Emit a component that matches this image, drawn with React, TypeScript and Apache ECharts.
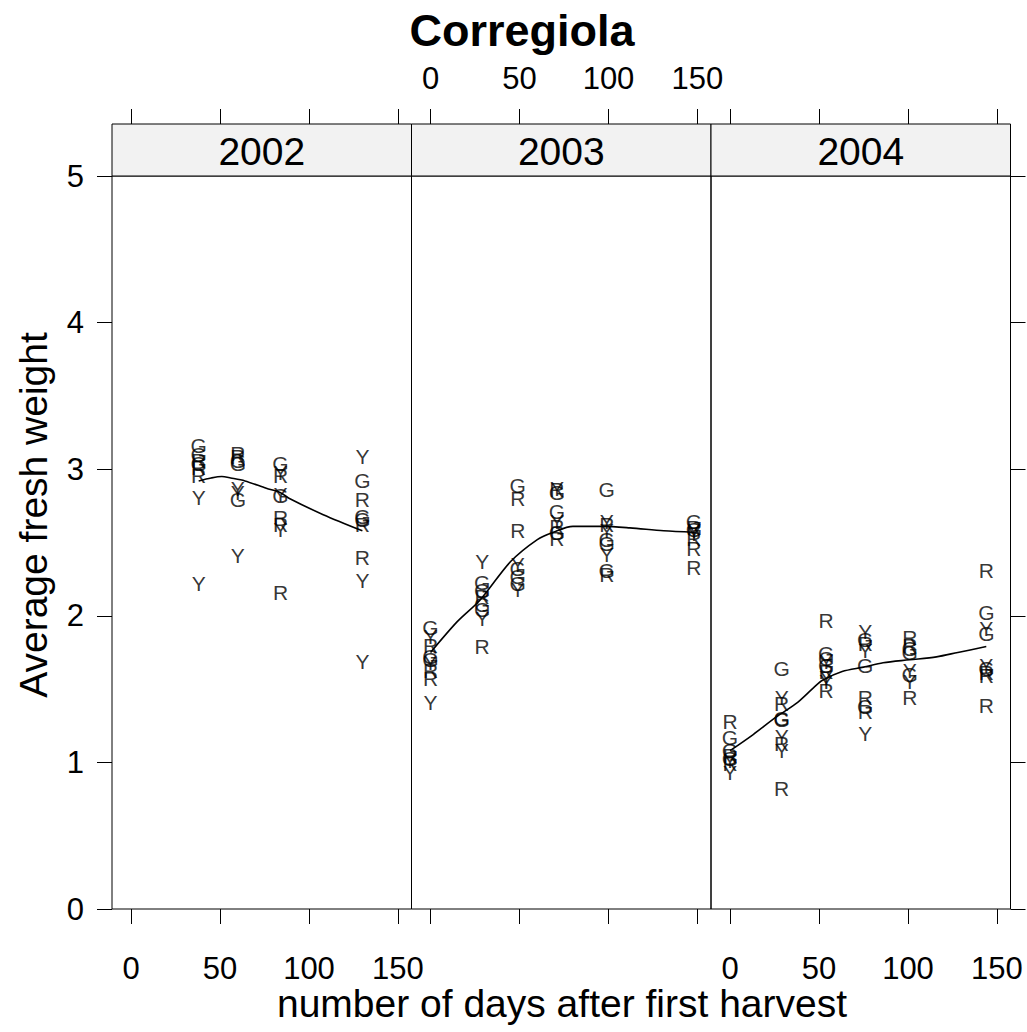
import React, { useEffect, useRef } from "react";
import * as echarts from "echarts";

const years = ["2002", "2003", "2004"];
const xTicks = [0, 50, 100, 150];
const X_MIN = -10.7;
const X_MAX = 157.6;
const Y_MIN = 0;
const Y_MAX = 5;

// observations: [days, average fresh weight, ripeness letter]
const pts2002: [number, number, string][] = [
  [38, 3.16, "G"], [38, 3.1, "G"], [38, 3.06, "R"], [38, 3.04, "G"], [38, 3.01, "R"], [38, 2.96, "R"], [38, 2.81, "Y"], [38, 2.22, "Y"],
  [60, 3.11, "R"], [60, 3.09, "R"], [60, 3.06, "G"], [60, 3.04, "G"], [60, 2.87, "Y"], [60, 2.84, "Y"], [60, 2.79, "G"], [60, 2.41, "Y"],
  [84, 3.04, "G"], [84, 2.98, "Y"], [84, 2.96, "R"], [84, 2.83, "Y"], [84, 2.82, "G"], [84, 2.67, "R"], [84, 2.62, "R"], [84, 2.59, "Y"], [84, 2.16, "R"],
  [130, 3.09, "Y"], [130, 2.92, "G"], [130, 2.79, "R"], [130, 2.68, "G"], [130, 2.66, "G"], [130, 2.62, "R"], [130, 2.4, "R"], [130, 2.24, "Y"], [130, 1.69, "Y"],
];
const pts2003: [number, number, string][] = [
  [0, 1.92, "G"], [0, 1.86, "Y"], [0, 1.8, "R"], [0, 1.72, "G"], [0, 1.7, "G"], [0, 1.68, "Y"], [0, 1.63, "R"], [0, 1.57, "R"], [0, 1.41, "Y"],
  [29, 2.37, "Y"], [29, 2.23, "G"], [29, 2.17, "G"], [29, 2.13, "R"], [29, 2.08, "G"], [29, 2.04, "G"], [29, 1.98, "Y"], [29, 1.79, "R"],
  [49, 2.89, "G"], [49, 2.8, "R"], [49, 2.58, "R"], [49, 2.35, "Y"], [49, 2.32, "G"], [49, 2.27, "G"], [49, 2.22, "G"], [49, 2.18, "Y"],
  [71, 2.87, "Y"], [71, 2.86, "R"], [71, 2.84, "G"], [71, 2.71, "G"], [71, 2.64, "Y"], [71, 2.61, "R"], [71, 2.57, "G"], [71, 2.53, "R"],
  [99, 2.86, "G"], [99, 2.64, "Y"], [99, 2.62, "R"], [99, 2.58, "Y"], [99, 2.52, "G"], [99, 2.49, "G"], [99, 2.42, "Y"], [99, 2.31, "G"], [99, 2.28, "R"],
  [148, 2.64, "G"], [148, 2.6, "R"], [148, 2.59, "G"], [148, 2.58, "Y"], [148, 2.56, "Y"], [148, 2.53, "R"], [148, 2.46, "R"], [148, 2.33, "R"],
];
const pts2004: [number, number, string][] = [
  [0, 1.28, "R"], [0, 1.17, "G"], [0, 1.08, "G"], [0, 1.05, "R"], [0, 1.03, "G"], [0, 1.01, "Y"], [0, 0.99, "R"], [0, 0.93, "Y"],
  [29, 1.64, "G"], [29, 1.44, "Y"], [29, 1.4, "R"], [29, 1.3, "G"], [29, 1.29, "G"], [29, 1.18, "Y"], [29, 1.13, "R"], [29, 1.08, "Y"], [29, 0.82, "R"],
  [54, 1.97, "R"], [54, 1.74, "G"], [54, 1.71, "G"], [54, 1.69, "Y"], [54, 1.66, "G"], [54, 1.62, "R"], [54, 1.58, "Y"], [54, 1.55, "Y"], [54, 1.49, "R"],
  [76, 1.89, "Y"], [76, 1.84, "G"], [76, 1.81, "R"], [76, 1.76, "Y"], [76, 1.66, "G"], [76, 1.44, "R"], [76, 1.38, "G"], [76, 1.35, "R"], [76, 1.2, "Y"],
  [101, 1.85, "R"], [101, 1.8, "R"], [101, 1.78, "G"], [101, 1.75, "G"], [101, 1.63, "Y"], [101, 1.6, "G"], [101, 1.55, "Y"], [101, 1.44, "R"],
  [144, 2.31, "R"], [144, 2.02, "G"], [144, 1.91, "Y"], [144, 1.88, "G"], [144, 1.66, "Y"], [144, 1.64, "G"], [144, 1.61, "R"], [144, 1.59, "R"], [144, 1.39, "R"],
];

// loess smooth curves
const fit2002: [number, number][] = [
  [38, 2.92], [45, 2.94], [51, 2.95], [56, 2.94], [64, 2.92], [76, 2.87], [84, 2.84], [89, 2.8], [108, 2.69], [130, 2.58],
];
const fit2003: [number, number][] = [
  [0, 1.75], [15, 1.96], [28, 2.11], [45, 2.37], [60, 2.52], [69, 2.57], [80, 2.61], [97, 2.61], [112, 2.6], [131, 2.58], [148, 2.57],
];
const fit2004: [number, number][] = [
  [0, 1.08], [13, 1.19], [26, 1.31], [38, 1.41], [47, 1.51], [52, 1.56], [63, 1.62], [75, 1.65], [86, 1.68], [101, 1.7], [116, 1.72], [128, 1.75], [144, 1.79],
];

const points = [pts2002, pts2003, pts2004];
const fits = [fit2002, fit2003, fit2004];

const FONT = "'Liberation Sans', Arial, Helvetica, sans-serif";
const PANEL_LEFT = 112;
const PANEL_W = 299.5;
const PANEL_TOP = 176;
const PANEL_H = 733;
const STRIP_H = 52;
const TICK_FS = 31;

export default function App() {
  const ref = useRef<HTMLDivElement>(null);
  useEffect(() => {
    if (!ref.current) return;
    const chart = echarts.init(ref.current, null, { renderer: "svg" });
    const grids: any[] = [];
    const xAxes: any[] = [];
    const yAxes: any[] = [];
    const series: any[] = [];
    const graphics: any[] = [];
    const tickStyle = { color: "#000", width: 1 };
    years.forEach((yr, i) => {
      const left = PANEL_LEFT + i * PANEL_W;
      grids.push({
        left,
        top: PANEL_TOP,
        width: PANEL_W,
        height: PANEL_H,
        show: true,
        borderColor: "#000",
        borderWidth: 1,
        backgroundColor: "transparent",
      });
      const baseX = {
        type: "value",
        gridIndex: i,
        min: X_MIN,
        max: X_MAX,
        axisLine: { show: false, onZero: false },
        splitLine: { show: false },
        axisTick: {
          show: true,
          inside: false,
          length: 15,
          customValues: xTicks,
          lineStyle: tickStyle,
        },
      };
      xAxes.push({
        ...baseX,
        position: "bottom",
        axisLabel: {
          show: i !== 1,
          customValues: xTicks,
          fontSize: TICK_FS,
          color: "#000",
          fontFamily: FONT,
          margin: 44,
        },
      });
      xAxes.push({
        ...baseX,
        position: "top",
        offset: STRIP_H,
        axisLabel: {
          show: i === 1,
          customValues: xTicks,
          fontSize: TICK_FS,
          color: "#000",
          fontFamily: FONT,
          margin: 30,
        },
      });
      yAxes.push({
        type: "value",
        gridIndex: i,
        min: Y_MIN,
        max: Y_MAX,
        interval: 1,
        position: "left",
        axisLine: { show: false, onZero: false },
        splitLine: { show: false },
        axisTick: {
          show: i === 0,
          inside: false,
          length: 15,
          lineStyle: tickStyle,
        },
        axisLabel: {
          show: i === 0,
          fontSize: TICK_FS,
          color: "#000",
          fontFamily: FONT,
          margin: 28,
        },
      });
      series.push({
        type: "scatter",
        xAxisIndex: 2 * i,
        yAxisIndex: i,
        symbol: "circle",
        symbolSize: 1,
        itemStyle: { color: "rgba(0,0,0,0)" },
        data: points[i].map((p) => [p[0], p[1], p[2]]),
        label: {
          show: true,
          position: "inside",
          formatter: (pp: any) => pp.value[2],
          fontSize: 21,
          color: "#000",
          fontFamily: FONT,
        },
        labelLayout: { hideOverlap: false },
        silent: true,
        z: 3,
      });
      series.push({
        type: "line",
        xAxisIndex: 2 * i,
        yAxisIndex: i,
        data: fits[i],
        showSymbol: false,
        smooth: 0.3,
        lineStyle: { color: "#000", width: 1.6 },
        silent: true,
        z: 4,
      });
      graphics.push({
        type: "rect",
        shape: { x: left, y: PANEL_TOP - STRIP_H, width: PANEL_W, height: STRIP_H },
        style: { fill: "#f2f2f2", stroke: "#000", lineWidth: 1 },
        z: 1,
      });
      graphics.push({
        type: "text",
        x: left + PANEL_W / 2,
        y: PANEL_TOP - STRIP_H / 2 + 1,
        style: {
          text: yr,
          fontSize: 39,
          fontFamily: FONT,
          fill: "#000",
          textAlign: "center",
          textVerticalAlign: "middle",
        },
        z: 2,
      });
    });
    // right-side y ticks on last panel
    yAxes.push({
      type: "value",
      gridIndex: 2,
      min: Y_MIN,
      max: Y_MAX,
      interval: 1,
      position: "right",
      axisLine: { show: false, onZero: false },
      splitLine: { show: false },
      axisTick: { show: true, inside: false, length: 15, lineStyle: tickStyle },
      axisLabel: { show: false },
    });
    graphics.push({
      type: "text",
      x: 522,
      y: 30,
      style: {
        text: "Corregiola",
        fontSize: 45,
        fontWeight: "bold",
        fontFamily: FONT,
        fill: "#000",
        textAlign: "center",
        textVerticalAlign: "middle",
      },
    });
    graphics.push({
      type: "text",
      x: 562,
      y: 1003,
      style: {
        text: "number of days after first harvest",
        fontSize: 39,
        fontFamily: FONT,
        fill: "#000",
        textAlign: "center",
        textVerticalAlign: "middle",
      },
    });
    graphics.push({
      type: "text",
      x: 33,
      y: 515,
      rotation: Math.PI / 2,
      style: {
        text: "Average fresh weight",
        fontSize: 39,
        fontFamily: FONT,
        fill: "#000",
        textAlign: "center",
        textVerticalAlign: "middle",
      },
    });
    chart.setOption({
      animation: false,
      backgroundColor: "#fff",
      grid: grids,
      xAxis: xAxes,
      yAxis: yAxes,
      series,
      graphic: graphics,
    });
    return () => chart.dispose();
  }, []);
  return (
    <div
      ref={ref}
      style={{ position: "absolute", left: 0, top: 0, width: 1027, height: 1032 }}
    />
  );
}
